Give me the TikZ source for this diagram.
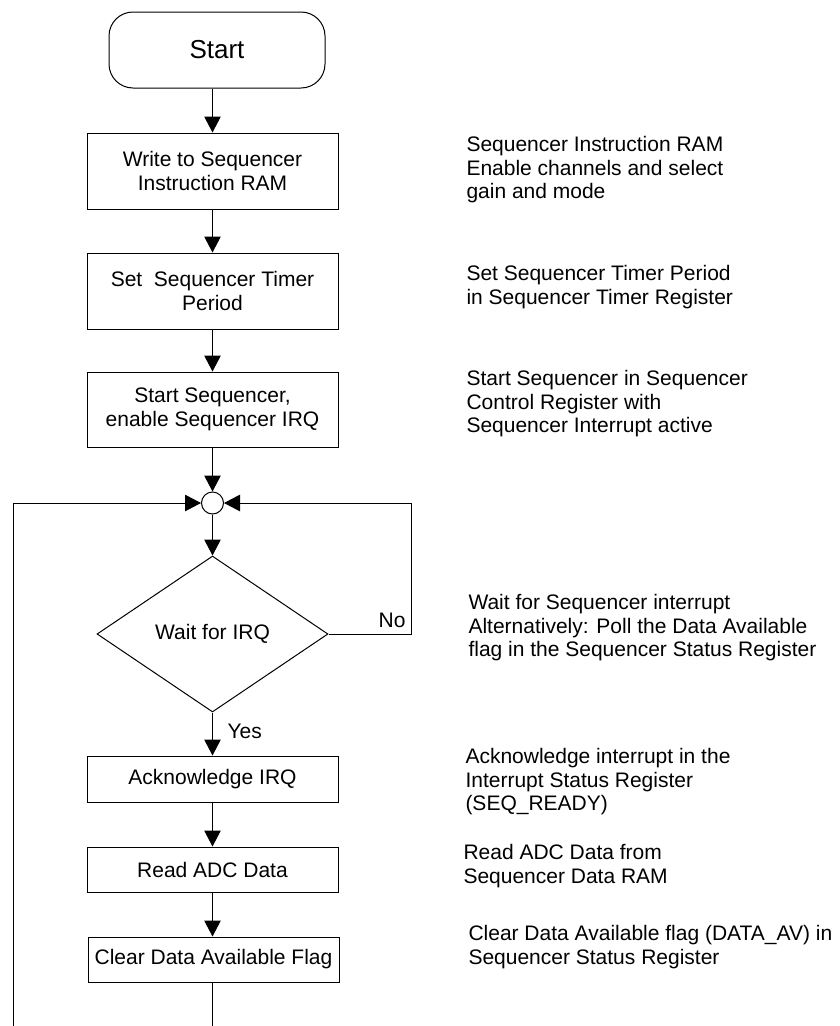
\documentclass[tikz,border=0pt]{standalone}
\usepackage{fontspec}
\setmainfont{Liberation Sans}
\usetikzlibrary{arrows.meta,positioning}
\usetikzlibrary{shapes.geometric}

\begin{document}
\begin{tikzpicture}
		[x=1pt,y=-1pt,line width=1pt,
		proc node/.style={shape=rectangle,draw,minimum width=251pt,inner sep=0pt,align=center,font=\fontsize{21}{24}\selectfont},
		start node/.style={shape=rectangle,draw,rounded corners=24pt,minimum width=216pt,minimum height=76pt,font=\fontsize{26}{30}\selectfont},
		dec node/.style={shape=diamond,draw,minimum width=231pt,minimum height=156pt,inner sep=0pt,font=\fontsize{21}{24}\selectfont},
		join node/.style={shape=circle,draw,fill=white,minimum size=22pt,inner sep=0pt},
		note node/.style={anchor=west,align=left,inner sep=0pt,font=\fontsize{21}{23.5}\selectfont},
		lbl node/.style={inner sep=0pt,font=\fontsize{21}{24}\selectfont},
		flow/.style={-{Triangle[length=16pt,width=16.5pt]}}
		]
		
		\useasboundingbox (0,0) rectangle (839,1026);
		
		\node [start node] (start) at (217,50) {Start};
		\node [proc node][minimum height=76pt] (1) at (212.5,171) {Write to Sequencer\\Instruction RAM};
		\node [proc node][minimum height=76pt] (2) at (212.5,291) {Set\ \ Sequencer Timer\\Period};
		\node [proc node][minimum height=75pt] (3) at (212.5,409.5) {Start Sequencer,\\enable Sequencer IRQ};
		\node [join node] (j) at (212.5,503) {};
		\node [dec node] (dec) at (212.5,634) {Wait for IRQ};
		\node [proc node][minimum height=46pt] (4) at (212.5,779) {Acknowledge IRQ};
		\node [proc node][minimum height=45pt] (5) at (212.5,869.5) {Read ADC Data};
		\node [proc node][minimum height=45pt] (6) at (213.5,959.5) {Clear Data Available Flag};
		
		\node [lbl node][anchor=south east] (no) at (406,628) {No};
		\node [lbl node][anchor=west] (yes) at (227,731) {Yes};
		
		% side notes
		\node [note node] (n1) at (466,170) {Sequencer Instruction RAM\\Enable channels and select\\gain and mode};
		\node [note node] (n2) at (466,287) {Set Sequencer Timer Period\\in Sequencer Timer Register};
		\node [note node] (n3) at (466,404) {Start Sequencer in Sequencer\\Control Register with\\Sequencer Interrupt active};
		\node [note node] (n4) at (468,628) {Wait for Sequencer interrupt\\Alternatively: Poll the Data Available\\flag in the Sequencer Status Register};
		\node [note node] (n5) at (465,782) {Acknowledge interrupt in the\\Interrupt Status Register\\(SEQ\_READY)};
		\node [note node] (n6) at (463,866) {Read ADC Data from\\Sequencer Data RAM};
		\node [note node] (n7) at (468,947) {Clear Data Available flag (DATA\_AV) in\\Sequencer Status Register};
		
		\coordinate (noturn) at (411,634);
		\coordinate (loopin) at (13,1026);
		\coordinate (loopout) at (212.5,1026);
		
		\path[flow]
		(start.south -| 1) edge (1)
		(1) edge (2)
		(2) edge (3)
		(3) edge (j)
		(j) edge (dec)
		(dec) edge (4)
		(4) edge (5)
		(5.south) edge (5.south |- 6.north)
		;
		\draw (6.south -| loopout) -- (loopout);
		\draw[flow] (loopin) |- (j.west);
		\draw[flow] (dec.east) -- (noturn) |- (j.east);
		
		\end{tikzpicture}
\end{document}
